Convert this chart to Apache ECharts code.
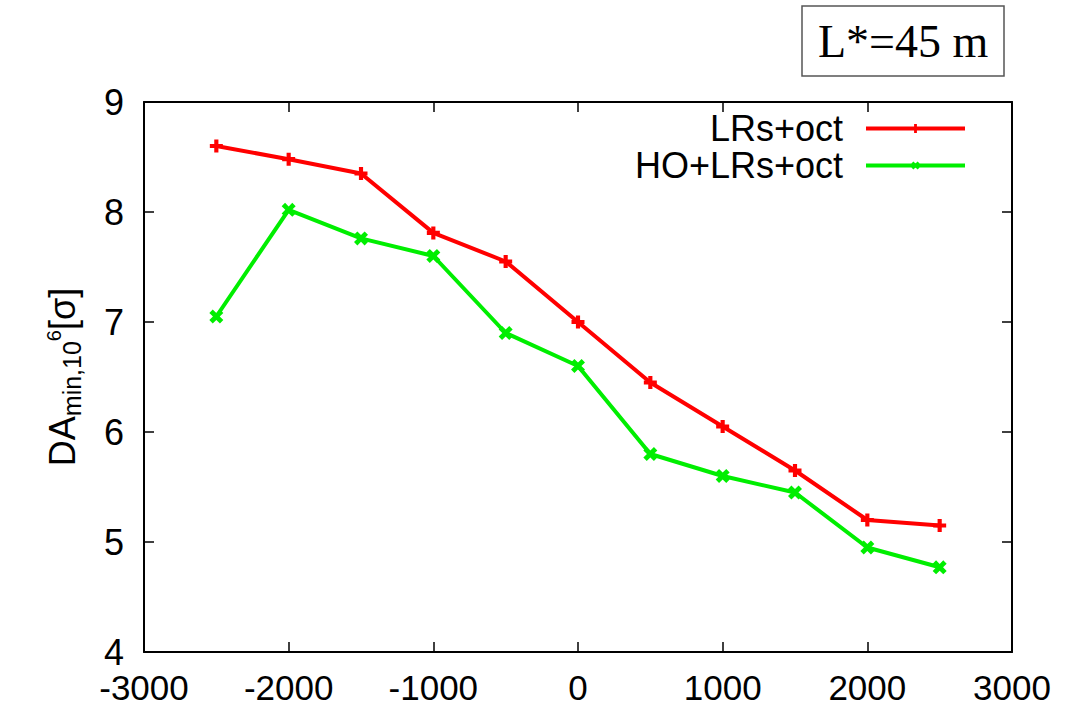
<!DOCTYPE html>
<html>
<head>
<meta charset="utf-8">
<script src="https://cdn.jsdelivr.net/npm/echarts@6/dist/echarts.min.js"></script>
<style>
html,body{margin:0;padding:0;background:#fff;}
#main{width:1072px;height:707px;}
</style>
</head>
<body>
<div id="main"></div>
<script>
const xValues = [-2500, -2000, -1500, -1000, -500, 0, 500, 1000, 1500, 2000, 2500];
const lrsOct = [8.60, 8.48, 8.35, 7.81, 7.55, 7.00, 6.45, 6.05, 5.65, 5.20, 5.15];
const hoLrsOct = [7.05, 8.02, 7.76, 7.60, 6.90, 6.60, 5.80, 5.60, 5.45, 4.95, 4.77];
const seriesNames = ['LRs+oct', 'HO+LRs+oct'];
const xTicks = [-3000, 3000, 1000];
const yTicks = [4, 9, 1];
const titleText = 'L*=45 m';

const plusPath = 'path://M3.4,0H6.6V3.4H10V6.6H6.6V10H3.4V6.6H0V3.4H3.4Z';
const font = '"Liberation Sans", Arial, Helvetica, sans-serif';

const chart = echarts.init(document.getElementById('main'), null, {renderer: 'svg'});

const axisLine = {show: true, onZero: false, lineStyle: {color: '#000', width: 2}};
const axisTick = {show: true, inside: true, length: 10, lineStyle: {color: '#000', width: 1.5}};

function pairs(vals) { return xValues.map((x, i) => [x, vals[i]]); }

chart.setOption({
  backgroundColor: '#fff',
  animation: false,
  title: {
    text: titleText,
    left: 802, top: 6,
    padding: [12, 16, 12, 16],
    borderColor: '#555', borderWidth: 1.5,
    textStyle: {fontFamily: '"Liberation Serif", "Times New Roman", serif', fontSize: 46, fontWeight: 'normal', color: '#000'}
  },
  legend: {
    orient: 'vertical',
    right: 105, top: 110,
    align: 'right',
    padding: 0,
    itemGap: 0,
    itemWidth: 99, itemHeight: 11,
    lineStyle: {width: 4},
    data: seriesNames,
    textStyle: {fontFamily: font, fontSize: 36, color: '#000', lineHeight: 37, padding: [0, 18, 0, 0]}
  },
  grid: {left: 144, right: 60, top: 102, bottom: 55, containLabel: false},
  xAxis: [{
    type: 'value', min: xTicks[0], max: xTicks[1], interval: xTicks[2],
    axisLine, axisTick, splitLine: {show: false},
    axisLabel: {fontFamily: font, fontSize: 35, lineHeight: 28, color: '#000', margin: 21, formatter: v => String(v)}
  }, {
    type: 'value', position: 'top', min: xTicks[0], max: xTicks[1], interval: xTicks[2],
    axisLine, axisTick, splitLine: {show: false}, axisLabel: {show: false}
  }],
  yAxis: [{
    type: 'value', min: yTicks[0], max: yTicks[1], interval: yTicks[2],
    axisLine, axisTick, splitLine: {show: false},
    axisLabel: {fontFamily: font, fontSize: 36, lineHeight: 28, color: '#000', margin: 20, formatter: v => String(v)},
    name: 'DA{sub|min,10}{sup|6}[σ]',
    nameLocation: 'middle', nameRotate: 90, nameGap: 82,
    nameTextStyle: {
      fontFamily: font, fontSize: 36, color: '#000', lineHeight: 44, verticalAlign: 'middle',
      rich: {
        sub: {fontFamily: font, fontSize: 25, color: '#000', verticalAlign: 'bottom', lineHeight: 44},
        sup: {fontFamily: font, fontSize: 20, color: '#000', verticalAlign: 'top', lineHeight: 44, padding: [4, 0, 0, 0]}
      }
    }
  }, {
    type: 'value', position: 'right', min: yTicks[0], max: yTicks[1], interval: yTicks[2],
    axisLine, axisTick, splitLine: {show: false}, axisLabel: {show: false}
  }],
  series: [{
    name: seriesNames[0], type: 'line', data: pairs(lrsOct),
    symbol: plusPath, symbolSize: 13,
    lineStyle: {color: '#ff0000', width: 4},
    itemStyle: {color: '#ff0000'}
  }, {
    name: seriesNames[1], type: 'line', data: pairs(hoLrsOct),
    symbol: plusPath, symbolSize: 15, symbolRotate: 45,
    lineStyle: {color: '#00ee00', width: 4},
    itemStyle: {color: '#00ee00'}
  }]
});
</script>
</body>
</html>
